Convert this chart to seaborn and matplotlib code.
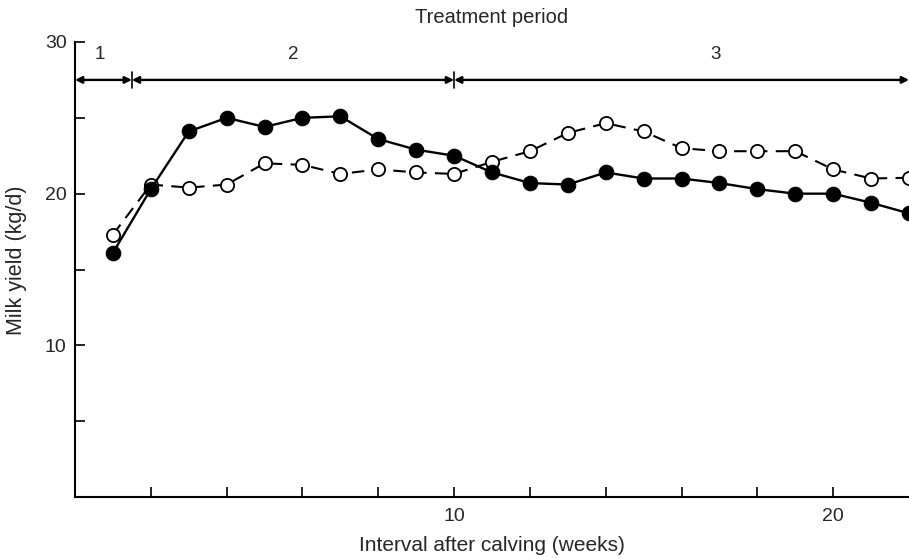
"""
Milk yield after calving for two treatment groups, with the three
treatment periods marked along the top of the plot.
"""

import numpy as np
import pandas as pd
import matplotlib
matplotlib.use("Agg")
import matplotlib.pyplot as plt
import seaborn as sns

### data ###
weeks = list(range(1, 23))
filled_yield = [16.1, 20.3, 24.1, 25.0, 24.4, 25.0, 25.1, 23.6, 22.9, 22.5,
                21.4, 20.7, 20.6, 21.4, 21.0, 21.0, 20.7, 20.3, 20.0, 20.0,
                19.4, 18.7]
open_yield = [17.3, 20.6, 20.4, 20.6, 22.0, 21.9, 21.3, 21.6, 21.4, 21.3,
              22.1, 22.8, 24.0, 24.65, 24.1, 23.0, 22.8, 22.8, 22.8, 21.6,
              21.0, 21.05]
period_labels = ["1", "2", "3"]
period_bounds = [0, 1.5, 10, 22]

df = pd.DataFrame({"week": weeks, "filled": filled_yield, "open": open_yield})

sns.set_style("ticks")
plt.rcParams["font.family"] = ["Liberation Sans", "DejaVu Sans"]

fig = plt.figure(figsize=(9.09, 5.59), dpi=100)
ax = fig.add_axes([75 / 909, 1 - 497 / 559, 1 - 75 / 909, (497 - 42) / 559])

## open circles, dashed
sns.lineplot(data=df, x="week", y="open", ax=ax, color="black", lw=1.5,
             linestyle=(0, (6, 4)), marker="o", markersize=9.5,
             markerfacecolor="white", markeredgecolor="black",
             markeredgewidth=1.3, zorder=3)
## filled circles, solid
sns.lineplot(data=df, x="week", y="filled", ax=ax, color="black", lw=1.7,
             marker="o", markersize=10.5, markerfacecolor="black",
             markeredgecolor="black", zorder=4)

ax.set_xlim(0, 22)
ax.set_ylim(0, 30)
ax.set_xticks([10, 20])
ax.set_xticks([2, 4, 6, 8, 12, 14, 16, 18], minor=True)
ax.set_yticks([10, 20, 30])
ax.set_yticks([5, 15, 25], minor=True)
ax.tick_params(axis="both", which="both", direction="in", length=7,
               width=1.2, labelsize=14, color="black")
ax.tick_params(axis="x", pad=8)
ax.tick_params(axis="y", pad=6)
for side in ["top", "right"]:
    ax.spines[side].set_visible(False)
for side in ["left", "bottom"]:
    ax.spines[side].set_linewidth(1.5)
    ax.spines[side].set_color("black")

ax.set_xlabel("Interval after calving (weeks)", fontsize=15, labelpad=8)
ax.set_ylabel("Milk yield (kg/d)", fontsize=15.5)
ax.yaxis.set_label_coords(-0.058, 0.52)

## treatment periods
y_arrow = 27.5
for i, lab in enumerate(period_labels):
    x0, x1 = period_bounds[i], period_bounds[i + 1]
    ax.annotate("", xy=(x1, y_arrow), xytext=(x0, y_arrow),
                arrowprops=dict(arrowstyle="<|-|>", color="black", lw=1.7,
                                mutation_scale=10, shrinkA=0, shrinkB=0),
                annotation_clip=False)
    xm = 0.66 if i == 0 else (x0 + x1) / 2 + (0.9 if i == 2 else 0)
    ax.text(xm, 29.2, lab, ha="center", va="center", fontsize=13.5)
for xb in period_bounds[1:3]:
    ax.plot([xb, xb], [y_arrow - 0.5, y_arrow + 0.5], color="black", lw=1.2)
ax.text(11, 31.6, "Treatment period", ha="center", va="center",
        fontsize=14.5, clip_on=False)

fig.savefig("out.png", dpi=100)
